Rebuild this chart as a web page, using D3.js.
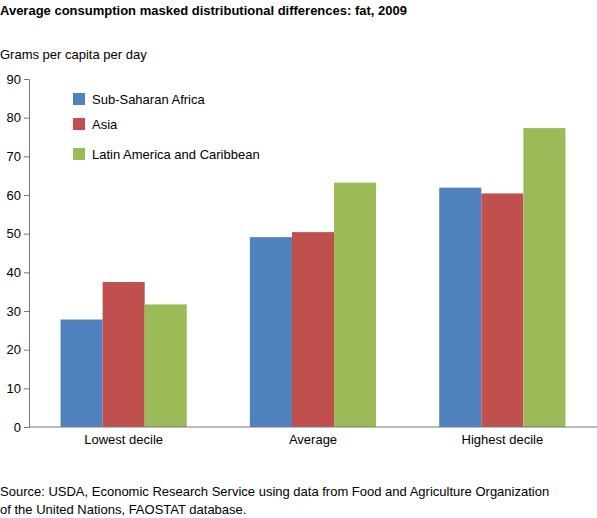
<!DOCTYPE html><html><head><meta charset="utf-8"><script src="https://cdn.jsdelivr.net/npm/d3@7"></script>
<style>body{margin:0;background:#fff}text{font-family:"Liberation Sans",Arial,sans-serif;fill:#000}</style></head><body><svg width="597" height="518"></svg><script>
const categories=["Lowest decile","Average","Highest decile"];
const seriesNames=["Sub-Saharan Africa","Asia","Latin America and Caribbean"];
const ssa=[27.8,49.1,61.9];
const asia=[37.5,50.4,60.4];
const lac=[31.7,63.2,77.3];
const yTicks=[0,10,20,30,40,50,60,70,80,90];
const colors=["#4f81bd","#c0504d","#9bbb59"];
const series=[ssa,asia,lac];
const svg=d3.select("svg");
const x=d3.scaleBand().domain(categories).range([29,597]).paddingInner(1/3).paddingOuter(1/6);
const xs=d3.scaleBand().domain(seriesNames).range([0,x.bandwidth()]);
const y=d3.scaleLinear().domain([0,90]).range([427,79]);
svg.append("text").attr("x",0).attr("y",15).attr("font-size",13).attr("font-weight","bold").text("Average consumption masked distributional differences: fat, 2009");
svg.append("text").attr("x",0).attr("y",59).attr("font-size",13).text("Grams per capita per day");
const ya=svg.append("g").attr("transform","translate(29,0)").call(d3.axisLeft(y).tickValues(yTicks).tickSize(5).tickPadding(3));
ya.selectAll("text").attr("font-size",13);
ya.select(".domain").attr("stroke","#777");ya.selectAll("line").attr("stroke","#777");
categories.forEach((c,i)=>{series.forEach((s,j)=>{
 svg.append("rect").attr("x",x(c)+xs(seriesNames[j])).attr("width",xs.bandwidth()).attr("y",y(s[i])).attr("height",y(0)-y(s[i])).attr("fill",colors[j]);
});});
const xa=svg.append("g").attr("transform","translate(0,427)").call(d3.axisBottom(x).tickSize(0).tickPadding(8));
xa.selectAll("text").attr("font-size",13);
xa.select(".domain").attr("stroke","#777").attr("d","M29,0H597");
seriesNames.forEach((n,j)=>{const yy=[99,124,154][j];
 svg.append("rect").attr("x",73).attr("y",yy-6).attr("width",12).attr("height",12).attr("fill",colors[j]);
 svg.append("text").attr("x",92).attr("y",yy+5).attr("font-size",13).text(n);});
svg.append("text").attr("x",0).attr("y",496).attr("font-size",13).text("Source: USDA, Economic Research Service using data from Food and Agriculture Organization");
svg.append("text").attr("x",0).attr("y",514).attr("font-size",13).text("of the United Nations, FAOSTAT database.");
</script></body></html>
